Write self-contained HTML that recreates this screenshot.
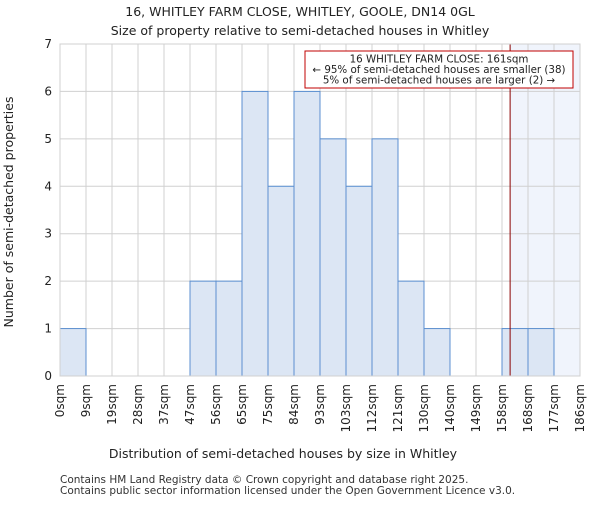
<!DOCTYPE html>
<html><head><meta charset="utf-8"><style>
body{margin:0;background:#fff;}
svg{font-family:"DejaVu Sans","Liberation Sans",sans-serif;}
</style></head><body>
<svg id="chart" width="600" height="500" viewBox="0 0 600 500">
<text x="300" y="16" text-anchor="middle" font-size="12.5" fill="#222">16, WHITLEY FARM CLOSE, WHITLEY, GOOLE, DN14 0GL</text>
<text x="300" y="35" text-anchor="middle" font-size="12.5" fill="#222">Size of property relative to semi-detached houses in Whitley</text>
<g id="plot"></g>
<text x="283" y="458" text-anchor="middle" font-size="12.5" fill="#222">Distribution of semi-detached houses by size in Whitley</text>
<text transform="translate(13,212) rotate(-90)" text-anchor="middle" font-size="12.5" fill="#222">Number of semi-detached properties</text>
<text x="60" y="483" font-size="10.5" fill="#333">Contains HM Land Registry data © Crown copyright and database right 2025.</text>
<text x="60" y="494" font-size="10.5" fill="#333">Contains public sector information licensed under the Open Government Licence v3.0.</text>
</svg>
<script>
const binLabels=["0sqm","9sqm","19sqm","28sqm","37sqm","47sqm","56sqm","65sqm","75sqm","84sqm","93sqm","103sqm","112sqm","121sqm","130sqm","140sqm","149sqm","158sqm","168sqm","177sqm","186sqm"];
const binEdges=[0,9.3,18.6,27.9,37.2,46.5,55.8,65.1,74.4,83.7,93,102.3,111.6,120.9,130.2,139.5,148.8,158.1,167.4,176.7,186];
const counts=[1,0,0,0,0,2,2,6,4,6,5,4,5,2,1,0,0,1,1,0];
const yTicks=[0,1,2,3,4,5,6,7];
const propertySize=161;
const NS="http://www.w3.org/2000/svg";
const X0=60,X1=580,Y0=376,Y1=44;
const xMin=binEdges[0],xMax=binEdges[binEdges.length-1];
const xs=v=>X0+(v-xMin)/(xMax-xMin)*(X1-X0);
const ys=v=>Y0-v/7*(Y0-Y1);
const g=document.getElementById('plot');
function el(t,a){const e=document.createElementNS(NS,t);for(const k in a)e.setAttribute(k,a[k]);g.appendChild(e);return e;}
const px=xs(propertySize);
const hl=el('rect',{x:px,y:Y1,width:X1-px,height:Y0-Y1,fill:'#f0f4fc'});


binEdges.forEach(v=>{const l=el('line',{x1:xs(v),x2:xs(v),y1:Y1,y2:Y0,stroke:'#d0d0d0','stroke-width':1});

});
yTicks.forEach(v=>{const l=el('line',{x1:X0,x2:X1,y1:ys(v),y2:ys(v),stroke:'#d0d0d0','stroke-width':1});


const t=el('text',{x:X0-8,y:ys(v)+4,'text-anchor':'end','font-size':12,fill:'#222'});t.textContent=v;

});
counts.forEach((c,i)=>{if(!c)return;const x=xs(binEdges[i]),w=xs(binEdges[i+1])-x;
const r=el('rect',{x:x,y:ys(c),width:w,height:ys(0)-ys(c),fill:'#dce6f4',stroke:'#5b8fd0','stroke-width':1});

});
binLabels.forEach((s,i)=>{const x=xs(binEdges[i]);
const t=el('text',{transform:`translate(${x+4},384) rotate(-90)`,'text-anchor':'end','font-size':12,fill:'#222'});t.textContent=s;

});
const ln=el('line',{x1:px,x2:px,y1:Y1,y2:Y0,stroke:'#8b0000','stroke-width':1});


const ax=el('rect',{x:X0,y:Y1,width:X1-X0,height:Y0-Y1,fill:'none',stroke:'#d0d0d0'});


const box=el('rect',{x:305,y:51,width:268,height:37,fill:'#fff',stroke:'#c00000','stroke-width':1});


["16 WHITLEY FARM CLOSE: 161sqm","← 95% of semi-detached houses are smaller (38)","5% of semi-detached houses are larger (2) →"].forEach((s,i)=>{
const t=el('text',{x:439,y:62.5+i*10.5,'text-anchor':'middle','font-size':10.3,fill:'#222'});t.textContent=s;

});
</script>
</body></html>
